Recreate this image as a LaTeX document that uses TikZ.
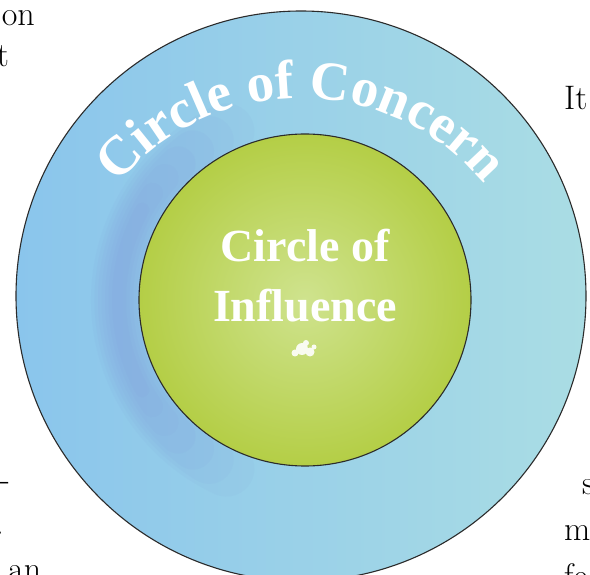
\documentclass[tikz,border=0pt]{standalone}
\usepackage{fontspec}
\newfontfamily\lblfont{Liberation Serif}
\usepackage{tikz}
\usetikzlibrary{decorations.text}
\definecolor{ringStroke}{HTML}{2B2B2B}
\definecolor{concernLeft}{HTML}{8AC5EC}
\definecolor{concernRight}{HTML}{AADDE4}
\definecolor{concernBand}{HTML}{7C8CD6}
\definecolor{influenceLight}{HTML}{CFE38E}
\definecolor{influenceGreen}{HTML}{B4CE46}
\tikzset{
	base/.style={
		circle, inner sep=0pt,
		draw=ringStroke, line width=1.1pt
	},
	% outer ring
	concern node/.style={base, minimum size=570pt,
		left color=concernLeft, right color=concernRight},
	% inner disc
	influence node/.style={base, minimum size=332pt,
		inner color=influenceLight, outer color=influenceGreen},
	% white label in the disc
	inner lbl/.style={font=\lblfont\bfseries\fontsize{46}{60}\selectfont,
		text=white, align=center, inner sep=0pt},
	% cut-off words of the page around the figure
	page txt/.style={font=\fontsize{34}{45}\selectfont,
		text=black, inner sep=0pt}
}

\begin{document}
\begin{tikzpicture}[x=1pt, y=1pt]
	\useasboundingbox (0,0) rectangle (590,574);
	\fill[white] (0,0) rectangle (590,574);

	%--- Circles -------------------------------------------------------
	\node[concern node] (concern) at (301,278) {};

	% soft darker blue wash left of the disc
	\begin{scope}
		\clip (concern.center) circle (284);
		\foreach \i in {0,...,6}{
			\draw[concernBand, line width=56pt-7pt*\i, opacity=0.06, line cap=round]
			(305,274) ++(115+6*\i:186) arc[start angle=115+6*\i, end angle=245-6*\i, radius=186];
		}
	\end{scope}

	\node[influence node] (influence) at (305,274) {};

	%--- Labels --------------------------------------------------------
	% baseline of the ring title: flatter arc, centre below the ring centre
	\coordinate (arc c) at (301,238);
	\path[decorate, decoration={text along path, text align=center,
		text color=white,
		text={|\lblfont\bfseries\fontsize{55}{60}\selectfont|Circle of Concern}}]
	(arc c) ++(160:238) arc[start angle=160, end angle=20, radius=238];

	\node[inner lbl] (influence lbl) at (305,298) {Circle of\\Influence};

	% small white splash
	\fill[white, opacity=0.9] (302,225) circle (6) (310,222) circle (4.5)
	(295,221) circle (3.5) (306,231) circle (3) (314,227) circle (2.5);

	%--- Page text cut by the crop -------------------------------------
	\node[page txt, anchor=base east] (w1) at (35,548) {on};
	\node[page txt, anchor=base east] (w2) at (9,507) {t};
	\node[page txt, anchor=base west] (w3) at (564,464) {It};
	\node[page txt, anchor=base east] (w4) at (10,83) {-};
	\node[page txt, anchor=base east] (w5) at (4,39) {.};
	\node[page txt, anchor=base west] (w6) at (8,-6) {an};
	\node[page txt, anchor=base west] (w7) at (582,79) {s};
	\node[page txt, anchor=base west] (w8) at (564,34) {m};
	\node[page txt, anchor=base west] (w9) at (564,-13) {fe};
\end{tikzpicture}
\end{document}
